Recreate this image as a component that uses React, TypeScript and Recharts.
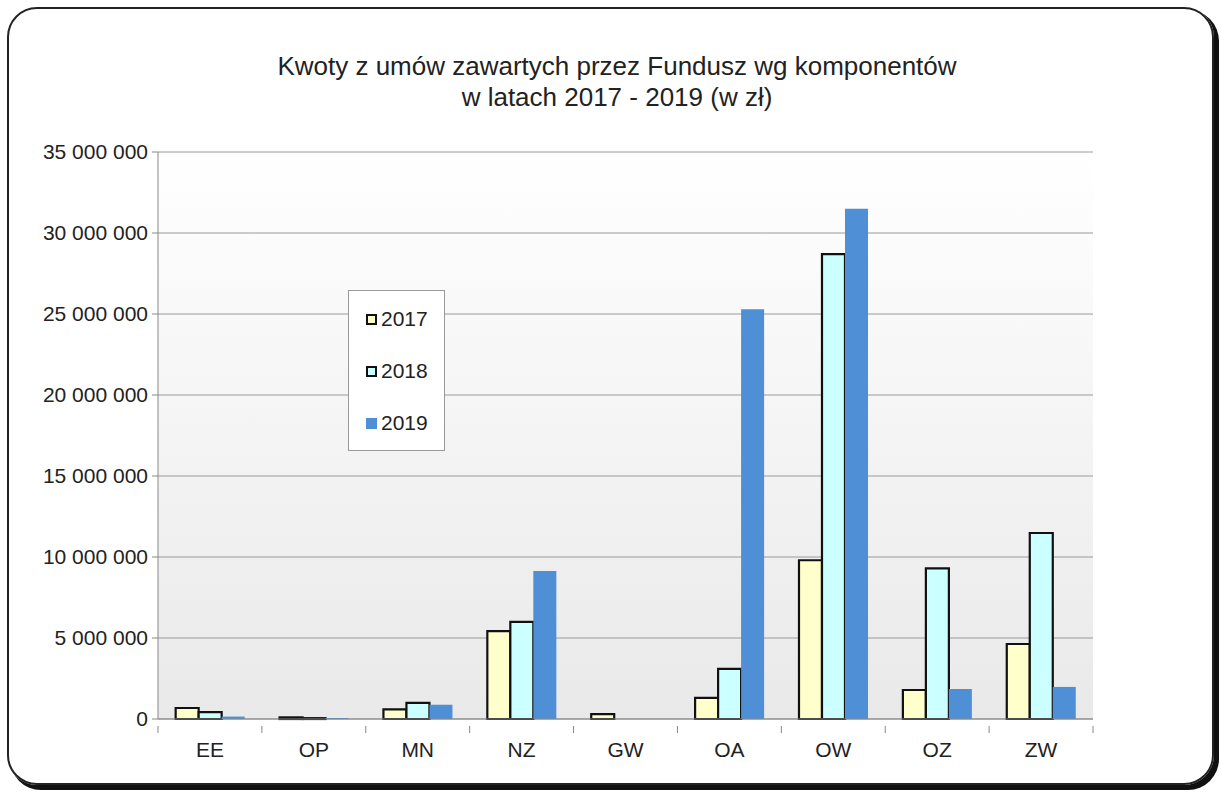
import { BarChart, Bar, XAxis, YAxis, CartesianGrid } from "recharts";

const categories = ["EE", "OP", "MN", "NZ", "GW", "OA", "OW", "OZ", "ZW"];
const kwoty2017 = [680000, 100000, 600000, 5430000, 300000, 1300000, 9800000, 1790000, 4630000];
const kwoty2018 = [430000, 50000, 1000000, 5990000, 0, 3090000, 28700000, 9300000, 11480000];
const kwoty2019 = [150000, 60000, 880000, 9140000, 0, 25300000, 31500000, 1850000, 1980000];
const yTicks = [0, 5000000, 10000000, 15000000, 20000000, 25000000, 30000000, 35000000];

const data = categories.map((c, i) => ({
  kategoria: c,
  r2017: kwoty2017[i],
  r2018: kwoty2018[i],
  r2019: kwoty2019[i],
}));

const FONT = "'Liberation Sans', Arial, sans-serif";
const PLOT_LEFT = 158;
const PLOT_RIGHT = 1093;
const PLOT_TOP = 152;
const PLOT_BOTTOM = 719;
const BAND = (PLOT_RIGHT - PLOT_LEFT) / categories.length;

const fmt = (v: number) => String(v).replace(/\B(?=(\d{3})+(?!\d))/g, " ");

const series = [
  { key: "r2017", name: "2017", fill: "#FFFFCC", stroke: "#111" },
  { key: "r2018", name: "2018", fill: "#CCFFFF", stroke: "#111" },
  { key: "r2019", name: "2019", fill: "#4F8FD6", stroke: "none" },
];

function CatTick(props: any) {
  const { x, y, payload, index } = props;
  const left = x - BAND / 2;
  return (
    <g>
      <line x1={left} y1={y - 1} x2={left} y2={y + 6} stroke="#888" />
      {index === categories.length - 1 && (
        <line x1={left + BAND} y1={y - 1} x2={left + BAND} y2={y + 6} stroke="#888" />
      )}
      <text x={x} y={y + 30} textAnchor="middle" fontSize={21} fontFamily={FONT} fill="#222">
        {payload.value}
      </text>
    </g>
  );
}

function LegendBox() {
  return (
    <div
      style={{
        position: "absolute",
        left: 348,
        top: 290,
        width: 97,
        height: 161,
        border: "1px solid #999",
        background: "#fff",
        boxSizing: "border-box",
        fontFamily: FONT,
        fontSize: 21,
        color: "#222",
        paddingTop: 2,
      }}
    >
      {series.map((s) => (
        <div key={s.key} style={{ display: "flex", alignItems: "center", height: 52, paddingLeft: 17 }}>
          <span
            style={{
              display: "inline-block",
              width: 11,
              height: 11,
              background: s.fill,
              border: s.stroke === "none" ? "none" : "2px solid #111",
              boxSizing: "border-box",
              marginRight: 4,
            }}
          />
          <span>{s.name}</span>
        </div>
      ))}
    </div>
  );
}

export default function App() {
  return (
    <div style={{ position: "absolute", left: 0, top: 0, width: 1221, height: 793, background: "#fff" }}>
      <div
        style={{
          position: "absolute",
          left: 7,
          top: 7,
          width: 1203,
          height: 774,
          border: "2px solid #222",
          borderRadius: 30,
          boxShadow: "4px 4px 0 1px #111",
        }}
      />
      <div
        style={{
          position: "absolute",
          left: 0,
          width: 1234,
          top: 51,
          textAlign: "center",
          fontFamily: FONT,
          fontSize: 26,
          lineHeight: "31px",
          color: "#222",
        }}
      >
        Kwoty z umów zawartych przez Fundusz wg komponentów
        <br />w latach 2017 - 2019 (w zł)
      </div>
      <div
        style={{
          position: "absolute",
          left: PLOT_LEFT,
          top: PLOT_TOP,
          width: PLOT_RIGHT - PLOT_LEFT,
          height: PLOT_BOTTOM - PLOT_TOP,
          background: "linear-gradient(#ffffff, #e9e9e9)",
        }}
      />
      <div style={{ position: "absolute", left: 0, top: 0 }}>
        <BarChart
          width={1221}
          height={793}
          data={data}
          margin={{ top: PLOT_TOP, left: 8, right: 1221 - PLOT_RIGHT, bottom: 793 - PLOT_BOTTOM - 50 }}
          barCategoryGap="17%"
          barGap={0}
        >
          <CartesianGrid vertical={false} stroke="#9a9a9a" strokeWidth={1} />
          <XAxis
            dataKey="kategoria"
            height={50}
            stroke="#888"
            tickLine={false}
            interval={0}
            tick={<CatTick />}
          />
          <YAxis
            width={150}
            domain={[0, 35000000]}
            ticks={yTicks}
            interval={0}
            stroke="#888"
            tickSize={6}
            tickMargin={4}
            tickFormatter={fmt}
            tick={{ fontSize: 21, fontFamily: FONT, fill: "#222" }}
          />
          {series.map((s) => (
            <Bar
              key={s.key}
              dataKey={s.key}
              name={s.name}
              fill={s.fill}
              stroke={s.stroke}
              strokeWidth={s.stroke === "none" ? 0 : 2.2}
              isAnimationActive={false}
            />
          ))}
        </BarChart>
      </div>
      <LegendBox />
    </div>
  );
}
